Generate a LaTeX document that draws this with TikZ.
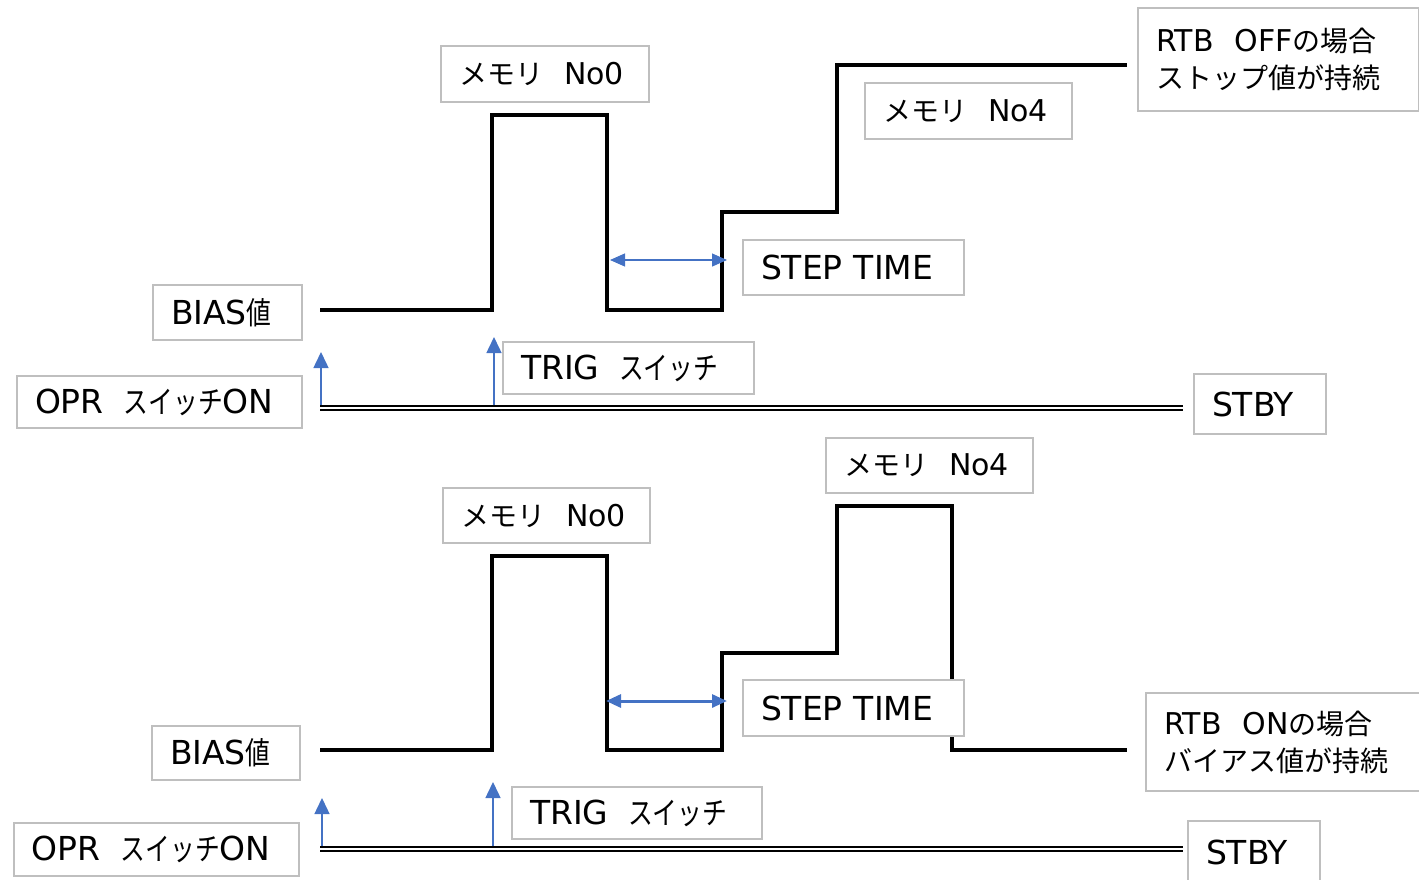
\documentclass[tikz,border=0pt]{standalone}
\usepackage{fontspec}
\setmainfont{DejaVu Sans}
\newfontfamily\jp{Noto Sans CJK JP}
\newfontfamily\jpn[FakeStretch=0.8]{Noto Sans CJK JP}
\usepackage{xcolor}
\usepackage{tikz}
\usetikzlibrary{arrows.meta}
\definecolor{boxgray}{HTML}{BFBFBF}
\definecolor{ablue}{HTML}{4472C4}
\newcommand{\jl}[1]{{\jpn\fontsize{15.5}{20}\selectfont #1}}
\newcommand{\js}[1]{{\jp\fontsize{14}{18.5}\selectfont #1}}

\begin{document}
\begin{tikzpicture}[
    x=0.5pt, y=-0.5pt,
    lbl/.style={draw=boxgray, line width=1pt, fill=white, anchor=north west, inner xsep=9pt, inner ysep=0pt, align=left},
    big/.style={lbl, font=\fontsize{16.5}{20}\selectfont},
    small/.style={lbl, font=\fontsize{15}{18.5}\selectfont},
    wave/.style={line width=2pt, line join=miter},
    rail/.style={double, line width=1pt, double distance=1pt},
    trig/.style={ablue, line width=0.75pt, -{Triangle[length=8pt,width=7.5pt]}},
    span/.style={ablue, {Triangle[length=7.5pt,width=6.5pt]}-{Triangle[length=7.5pt,width=6.5pt]}}
]
\clip (0,0) rectangle (1419,879);

% Upper chart: RTB OFF
\draw[wave] (320,310) -- (492,310) -- (492,115) -- (607,115) -- (607,310) -- (722,310)
    -- (722,212) -- (837,212) -- (837,65) -- (1127,65);
\draw[rail] (320,408) -- (1183,408);
\draw[trig] (321,405) -- (321,352);
\draw[trig] (494,405) -- (494,337);
\draw[span, line width=0.6pt] (610,260) -- (727,260);

\node[small, text width=86pt, minimum height=28pt] (memA0) at (440,45) {\js{メモリ}\hspace{0.7em}No0};
\node[small, text width=85.5pt, minimum height=28pt] (memA4) at (864,82) {\js{メモリ}\hspace{0.7em}No4};
\node[small, text width=122.5pt, minimum height=51.5pt] (rtbOff) at (1137,7) {RTB\hspace{0.7em}OFF\js{の場合}\\\js{ストップ値が持続}};
\node[big, text width=92.5pt, minimum height=27.5pt] (stepA) at (742,239) {STEP TIME};
\node[big, text width=56.5pt, minimum height=27.5pt] (biasA) at (152,284) {BIAS\jl{値}};
\node[big, text width=107.5pt, minimum height=26pt] (trigA) at (502,341) {TRIG\hspace{0.6em}\jl{スイッチ}};
\node[big, text width=124.5pt, minimum height=26pt] (oprA) at (16,375) {OPR\hspace{0.6em}\jl{スイッチ}ON};
\node[big, text width=48pt, minimum height=30pt] (stbyA) at (1193,373) {STBY};

% Lower chart: RTB ON
\draw[wave] (320,750) -- (492,750) -- (492,556) -- (607,556) -- (607,750) -- (722,750)
    -- (722,653) -- (837,653) -- (837,506) -- (952,506) -- (952,750) -- (1127,750);
\draw[rail] (320,849) -- (1183,849);
\draw[trig] (322,846) -- (322,798);
\draw[trig] (493,846) -- (493,782);
\draw[span, line width=1.5pt] (606,701) -- (727,701);

\node[small, text width=85.5pt, minimum height=27.5pt] (memB0) at (442,487) {\js{メモリ}\hspace{0.7em}No0};
\node[small, text width=85.5pt, minimum height=27.5pt] (memB4) at (825,437) {\js{メモリ}\hspace{0.7em}No4};
\node[big, text width=92.5pt, minimum height=28pt] (stepB) at (742,679) {STEP TIME};
\node[small, text width=120pt, minimum height=49pt] (rtbOn) at (1145,692) {RTB\hspace{0.7em}ON\js{の場合}\\\js{バイアス値が持続}};
\node[big, text width=56pt, minimum height=27pt] (biasB) at (151,725) {BIAS\jl{値}};
\node[big, text width=107pt, minimum height=26pt] (trigB) at (511,786) {TRIG\hspace{0.6em}\jl{スイッチ}};
\node[big, text width=124.5pt, minimum height=26.5pt] (oprB) at (13,822) {OPR\hspace{0.6em}\jl{スイッチ}ON};
\node[big, text width=48pt, minimum height=31pt] (stbyB) at (1187,820) {STBY};
\end{tikzpicture}
\end{document}
